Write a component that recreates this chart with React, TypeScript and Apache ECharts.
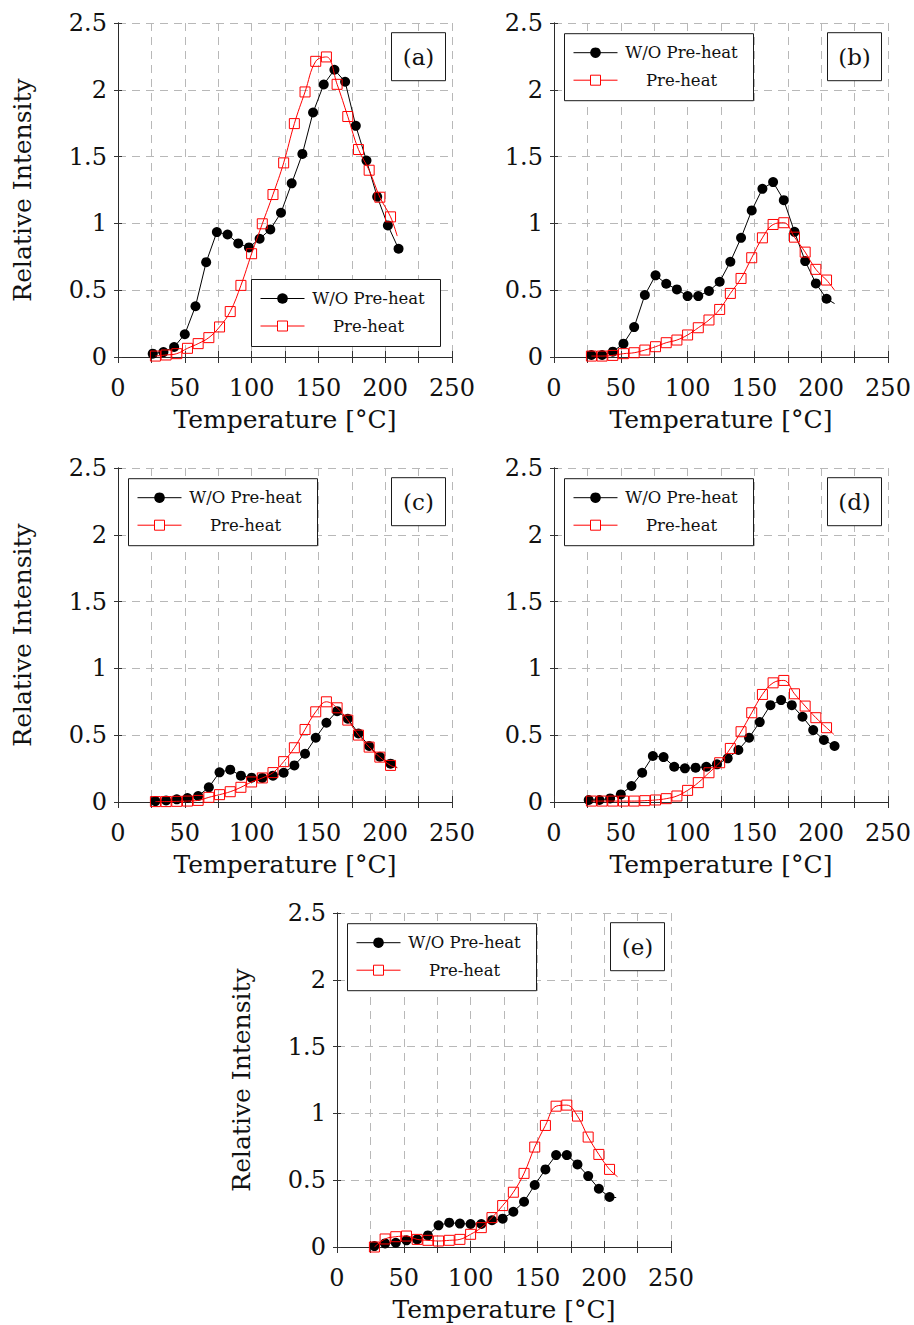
import React, { useEffect, useRef } from "react";
import * as echarts from "echarts";

// Sampling temperatures (°C)
const tempsFrom26 = [26, 34, 42, 50, 58, 66, 74, 82, 90, 98, 106, 114, 122, 130, 138, 146, 154, 162, 170, 178, 186, 194, 202, 210];
const tempsFrom28 = [28, 36, 44, 52, 60, 68, 76, 84, 92, 100, 108, 116, 124, 132, 140, 148, 156, 164, 172, 180, 188, 196, 204];

// Tick labels
const xTickValues = [0, 50, 100, 150, 200, 250];
const yTickValues = [0, 0.5, 1, 1.5, 2, 2.5];

const seriesNames = ["W/O Pre-heat", "Pre-heat"];
const panelLabels = ["(a)", "(b)", "(c)", "(d)", "(e)"];

// (a)
const aNoPreheat = [0.025, 0.037, 0.075, 0.17, 0.38, 0.71, 0.935, 0.917, 0.85, 0.82, 0.885, 0.955, 1.08, 1.3, 1.52, 1.83, 2.04, 2.15, 2.06, 1.73, 1.47, 1.2, 0.985, 0.81];
const aPreheat = [0.007, 0.015, 0.025, 0.065, 0.1, 0.145, 0.225, 0.34, 0.536, 0.773, 0.997, 1.216, 1.453, 1.747, 1.984, 2.213, 2.246, 2.041, 1.8, 1.553, 1.398, 1.196, 1.049];
const aPreheatTail = [209, 0.905];

// (b)
const bNoPreheat = [0.015, 0.015, 0.04, 0.1, 0.224, 0.464, 0.611, 0.548, 0.506, 0.456, 0.456, 0.494, 0.563, 0.713, 0.892, 1.097, 1.259, 1.309, 1.174, 0.937, 0.718, 0.551, 0.436];
const bNoPreheatTail = [210, 0.4];
const bPreheat = [0.007, 0.007, 0.012, 0.025, 0.032, 0.052, 0.077, 0.107, 0.127, 0.165, 0.219, 0.277, 0.356, 0.476, 0.588, 0.743, 0.892, 0.992, 1.005, 0.897, 0.785, 0.656, 0.576];
const bPreheatTail = [210, 0.5];

// (c)
const cNoPreheat = [0.007, 0.012, 0.02, 0.03, 0.045, 0.11, 0.222, 0.242, 0.197, 0.182, 0.18, 0.197, 0.219, 0.274, 0.361, 0.481, 0.593, 0.68, 0.623, 0.513, 0.419, 0.339, 0.287];
const cNoPreheatTail = [209, 0.257];
const cPreheat = [0.003, 0.003, 0.005, 0.007, 0.012, 0.035, 0.055, 0.077, 0.11, 0.15, 0.18, 0.22, 0.302, 0.406, 0.543, 0.675, 0.75, 0.705, 0.613, 0.501, 0.411, 0.336, 0.274];
const cPreheatTail = [209, 0.257];

// (d)
const dNoPreheat = [0.015, 0.015, 0.027, 0.057, 0.12, 0.219, 0.344, 0.336, 0.264, 0.252, 0.257, 0.264, 0.282, 0.327, 0.389, 0.481, 0.598, 0.725, 0.763, 0.725, 0.638, 0.538, 0.464, 0.419];
const dPreheat = [0.007, 0.007, 0.007, 0.007, 0.007, 0.01, 0.015, 0.025, 0.045, 0.087, 0.145, 0.219, 0.294, 0.401, 0.526, 0.668, 0.805, 0.892, 0.91, 0.81, 0.718, 0.631, 0.556];
const dPreheatTail = [209.5, 0.506];

// (e)
const eNoPreheat = [0.007, 0.027, 0.032, 0.05, 0.057, 0.087, 0.162, 0.182, 0.175, 0.172, 0.172, 0.2, 0.212, 0.264, 0.339, 0.464, 0.581, 0.688, 0.688, 0.618, 0.531, 0.436, 0.374];
const eNoPreheatTail = [209, 0.37];
const ePreheat = [0.0, 0.06, 0.077, 0.082, 0.057, 0.05, 0.045, 0.05, 0.057, 0.095, 0.145, 0.22, 0.31, 0.41, 0.551, 0.748, 0.91, 1.054, 1.062, 0.98, 0.823, 0.693, 0.581];
const ePreheatTail = [210, 0.526];

const FONT = "'DejaVu Serif', serif";
const PLOT = 334;

type Curve = { t: number[]; v: number[]; tail: number[] | null };
type Panel = {
  label: string;
  left: number;
  top: number;
  yTitle: boolean;
  legendBottomRight: boolean;
  black: Curve;
  red: Curve;
};

const panels: Panel[] = [
  { label: panelLabels[0], left: 118, top: 23, yTitle: true, legendBottomRight: true,
    black: { t: tempsFrom26, v: aNoPreheat, tail: null },
    red: { t: tempsFrom28, v: aPreheat, tail: aPreheatTail } },
  { label: panelLabels[1], left: 554, top: 23, yTitle: false, legendBottomRight: false,
    black: { t: tempsFrom28, v: bNoPreheat, tail: bNoPreheatTail },
    red: { t: tempsFrom28, v: bPreheat, tail: bPreheatTail } },
  { label: panelLabels[2], left: 118, top: 468, yTitle: true, legendBottomRight: false,
    black: { t: tempsFrom28, v: cNoPreheat, tail: cNoPreheatTail },
    red: { t: tempsFrom28, v: cPreheat, tail: cPreheatTail } },
  { label: panelLabels[3], left: 554, top: 468, yTitle: false, legendBottomRight: false,
    black: { t: tempsFrom26, v: dNoPreheat, tail: null },
    red: { t: tempsFrom28, v: dPreheat, tail: dPreheatTail } },
  { label: panelLabels[4], left: 337, top: 913, yTitle: true, legendBottomRight: false,
    black: { t: tempsFrom28, v: eNoPreheat, tail: eNoPreheatTail },
    red: { t: tempsFrom28, v: ePreheat, tail: ePreheatTail } },
];

const curveData = (c: Curve) => {
  const pts: any[] = c.t.map((x, i) => [x, c.v[i]]);
  if (c.tail) pts.push({ value: c.tail, symbol: "none" });
  return pts;
};

const frameLine = { show: true, lineStyle: { color: "#2a2a2a", width: 1 } };
const gridDash = { show: true, lineStyle: { color: "#b8b8b8", width: 1, type: [8, 6] as any } };

function buildOption() {
  const grid: any[] = [];
  const xAxis: any[] = [];
  const yAxis: any[] = [];
  const series: any[] = [];
  const graphic: any[] = [];

  panels.forEach((p, i) => {
    grid.push({ left: p.left, top: p.top, width: PLOT, height: PLOT, containLabel: false });

    xAxis.push({
      type: "value", gridIndex: i, position: "bottom", min: 0, max: 250, interval: 25,
      axisLine: frameLine,
      axisTick: { show: true, inside: false, length: 6, lineStyle: { color: "#333" } },
      axisLabel: {
        margin: 19, fontFamily: FONT, fontSize: 24, color: "#111",
        formatter: (v: number) => (xTickValues.indexOf(v) >= 0 ? String(v) : ""),
      },
      splitLine: gridDash,
      name: "Temperature [°C]", nameLocation: "middle", nameGap: 50,
      nameTextStyle: { fontFamily: FONT, fontSize: 25, color: "#111" },
    });
    xAxis.push({
      type: "value", gridIndex: i, position: "top", min: 0, max: 250, interval: 25,
      axisLine: frameLine,
      axisTick: { show: true, inside: false, length: 6, lineStyle: { color: "#333" } },
      axisLabel: { show: false }, splitLine: { show: false },
    });

    yAxis.push({
      type: "value", gridIndex: i, position: "left", min: 0, max: 2.5, interval: 0.5,
      axisLine: frameLine,
      axisTick: { show: true, inside: false, length: 4, lineStyle: { color: "#333" } },
      axisLabel: {
        margin: 11, fontFamily: FONT, fontSize: 24, color: "#111",
        formatter: (v: number) => (yTickValues.indexOf(v) >= 0 ? String(v) : ""),
      },
      splitLine: gridDash,
      name: p.yTitle ? "Relative Intensity" : "", nameLocation: "middle", nameGap: 83, nameRotate: 90,
      nameTextStyle: { fontFamily: FONT, fontSize: 25, color: "#111" },
    });
    yAxis.push({
      type: "value", gridIndex: i, position: "right", min: 0, max: 2.5, interval: 0.5,
      axisLine: frameLine,
      axisTick: { show: true, inside: false, length: 4, lineStyle: { color: "#333" } },
      axisLabel: { show: false }, splitLine: { show: false },
    });

    series.push({
      type: "line", name: seriesNames[0], xAxisIndex: 2 * i, yAxisIndex: 2 * i,
      data: curveData(p.black), symbol: "circle", symbolSize: 10, showAllSymbol: true,
      itemStyle: { color: "#000" }, lineStyle: { color: "#000", width: 1 }, z: 3,
    });
    series.push({
      type: "line", name: seriesNames[1], xAxisIndex: 2 * i, yAxisIndex: 2 * i,
      data: curveData(p.red), symbol: "rect", symbolSize: 10, showAllSymbol: true, smooth: 0.4,
      itemStyle: { color: "rgba(255,255,255,0)", borderColor: "#ff0000", borderWidth: 1 },
      lineStyle: { color: "#ff0000", width: 1 }, z: 4,
    });

    // legend box
    const lx = p.legendBottomRight ? p.left + PLOT - 200.5 : p.left + 10.5;
    const ly = p.legendBottomRight ? p.top + PLOT - 77.5 : p.top + 10.7;
    graphic.push({
      type: "group", x: lx, y: ly, z: 100,
      children: [
        { type: "rect", z: 100, shape: { x: 0, y: 0, width: 189, height: 67 }, style: { fill: "#fff", stroke: "#1a1a1a", lineWidth: 1 } },
        { type: "line", z: 101, shape: { x1: 9, y1: 19, x2: 53, y2: 19 }, style: { stroke: "#000", lineWidth: 1 } },
        { type: "circle", z: 102, shape: { cx: 31, cy: 19, r: 5.3 }, style: { fill: "#000" } },
        { type: "text", z: 102, x: 117, y: 19, style: { text: seriesNames[0], fontFamily: FONT, fontSize: 16.5, fill: "#111", align: "center", verticalAlign: "middle" } },
        { type: "line", z: 101, shape: { x1: 9, y1: 46.5, x2: 53, y2: 46.5 }, style: { stroke: "#ff0000", lineWidth: 1 } },
        { type: "rect", z: 102, shape: { x: 26, y: 41.5, width: 10, height: 10 }, style: { fill: "#fff", stroke: "#ff0000", lineWidth: 1 } },
        { type: "text", z: 102, x: 117, y: 46.5, style: { text: seriesNames[1], fontFamily: FONT, fontSize: 16.5, fill: "#111", align: "center", verticalAlign: "middle" } },
      ],
    });

    // panel tag
    graphic.push({
      type: "group", x: p.left + PLOT - 60.5, y: p.top + 9.7, z: 100,
      children: [
        { type: "rect", z: 100, shape: { x: 0, y: 0, width: 54, height: 48 }, style: { fill: "#fff", stroke: "#1a1a1a", lineWidth: 1 } },
        { type: "text", z: 101, x: 27, y: 24, style: { text: p.label, fontFamily: FONT, fontSize: 23, fill: "#111", align: "center", verticalAlign: "middle" } },
      ],
    });
  });

  return { animation: false, backgroundColor: "#fff", grid, xAxis, yAxis, series, graphic };
}

export default function App() {
  const ref = useRef<HTMLDivElement>(null);
  useEffect(() => {
    if (!ref.current) return;
    const chart = echarts.init(ref.current, undefined, { renderer: "svg" });
    chart.setOption(buildOption() as any);
    return () => chart.dispose();
  }, []);
  return (
    <div
      ref={ref}
      style={{ position: "absolute", left: 0, top: 0, width: 914, height: 1325, background: "#fff" }}
    />
  );
}
